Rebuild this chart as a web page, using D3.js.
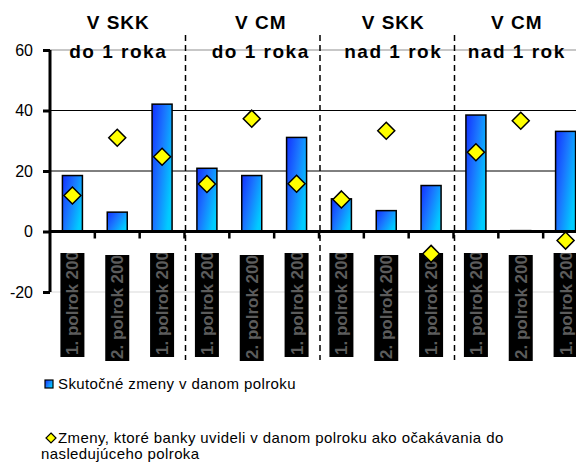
<!DOCTYPE html>
<html><head><meta charset="utf-8">
<script src="https://cdn.jsdelivr.net/npm/d3@7"></script>
<style>body{margin:0;background:#fff}svg{display:block}</style>
</head><body>
<script>
const categories = ["1. polrok 2005","2. polrok 2005","1. polrok 2006",
                    "1. polrok 2005","2. polrok 2005","1. polrok 2006",
                    "1. polrok 2005","2. polrok 2005","1. polrok 2006",
                    "1. polrok 2005","2. polrok 2005","1. polrok 2006"];
const actual   = [18.5, 6.4, 42.1, 20.9, 18.5, 31.1, 10.8, 6.9, 15.2, 38.5, 0.3, 33.1];
const expected = [11.9, 31.0, 24.7, 15.7, 37.3, 15.8, 10.6, 33.3, -7.4, 26.2, 36.6, -3.0];
const groupTitles = [["V SKK","do 1 roka"],["V CM","do 1 roka"],["V SKK","nad 1 rok"],["V CM","nad 1 rok"]];
const yTicks = [-20, 0, 20, 40, 60];
const legendLabels = ["Skutočné zmeny v danom polroku",
  ["Zmeny, ktoré banky uvideli v danom polroku ako očakávania do","nasledujúceho polroka"]];

const W = 576, H = 466;
const FONT = "Liberation Sans, Arial, sans-serif";
const svg = d3.select("body").append("svg").attr("width", W).attr("height", H);
const defs = svg.append("defs");
const grad = defs.append("linearGradient").attr("id","bg").attr("x1","0").attr("y1","0").attr("x2","1").attr("y2","0.6");
grad.append("stop").attr("offset","0").attr("stop-color","#1430ff");
grad.append("stop").attr("offset","0.5").attr("stop-color","#1a78ff");
grad.append("stop").attr("offset","1").attr("stop-color","#00ccff");

const x = d3.scaleBand().domain(d3.range(categories.length)).range([50, 588]);
const y = d3.scaleLinear().domain([-20, 60]).range([292, 50]);
const bw = x.bandwidth();
const bandLeft = i => x(i);
const cxOf = i => x(i) + bw / 2;

// gridlines
const gridColor = {"-20":"#e6e6e6","20":"#000","40":"#000","60":"#b4b4b4"};
svg.append("g").selectAll("line").data(yTicks.filter(d => d !== 0)).join("line")
  .attr("x1", 50).attr("x2", W).attr("y1", d => y(d)).attr("y2", d => y(d))
  .attr("stroke", d => gridColor[d]).attr("stroke-width", d => (d===20||d===40)?1:1.5);

// tick label boxes
const lab = svg.append("g");
categories.forEach((c, i) => {
  const cx = cxOf(i);
  const second = c.startsWith("2.");
  const top = second ? 255 : 253, bot = second ? 361 : 357;
  const cp = defs.append("clipPath").attr("id", "cl" + i);
  cp.append("rect").attr("x", cx - 12).attr("y", top).attr("width", 24).attr("height", bot - top);
  lab.append("rect").attr("x", cx - 12).attr("y", top).attr("width", 24).attr("height", bot - top).attr("fill", "#000");
  lab.append("g").attr("clip-path", "url(#cl" + i + ")").append("text")
    .attr("transform", `translate(${cx + 6},${bot - 2}) rotate(-90)`)
    .attr("font-family", FONT).attr("font-size", 17).attr("font-weight", "bold")
    .attr("fill", "#5c5c5c").text(c);
});

// separators
svg.append("g").selectAll("line").data([3, 6, 9]).join("line")
  .attr("x1", d => bandLeft(d) + 1).attr("x2", d => bandLeft(d) + 1).attr("y1", 35).attr("y2", 360)
  .attr("stroke", "#000").attr("stroke-width", 1.5).attr("stroke-dasharray", "6,4");

// bars
svg.append("g").selectAll("rect").data(actual).join("rect")
  .attr("x", (d, i) => cxOf(i) - 10).attr("width", 20)
  .attr("y", d => Math.min(y(d), y(0))).attr("height", d => Math.abs(y(d) - y(0)))
  .attr("fill", "url(#bg)").attr("stroke", "#000").attr("stroke-width", 1.5);

// zero line and axis
svg.append("line").attr("x1", 50).attr("x2", W).attr("y1", y(0)).attr("y2", y(0)).attr("stroke", "#000").attr("stroke-width", 3);
svg.append("g").selectAll("line").data(d3.range(1, 12)).join("line")
  .attr("x1", d => bandLeft(d)).attr("x2", d => bandLeft(d)).attr("y1", y(0)).attr("y2", y(0) + 7)
  .attr("stroke", "#000").attr("stroke-width", 2.5);
const yAxis = svg.append("g").attr("transform", "translate(50,0)")
  .call(d3.axisLeft(y).tickValues(yTicks).tickSize(7).tickPadding(10).tickFormat(d => String(d)));
yAxis.select(".domain").attr("stroke-width", 3).attr("d", `M0,${y(60)}V${y(-20)}`);
yAxis.selectAll(".tick line").attr("stroke-width", 3);
yAxis.selectAll("text").attr("font-family", FONT).attr("font-size", 16).attr("fill", "#000");

// diamonds
const diamond = s => `M0,${-s}L${s},0L0,${s}L${-s},0Z`;
svg.append("g").selectAll("path").data(expected).join("path")
  .attr("transform", (d, i) => `translate(${cxOf(i)},${y(d)})`)
  .attr("d", diamond(8.5)).attr("fill", "#ffff00").attr("stroke", "#000").attr("stroke-width", 1.5);

// titles
const titleOffsets = [1, 9, 7, -4];
const tg = svg.append("g").attr("font-family", FONT).attr("font-weight", "bold")
  .attr("font-size", 19).attr("text-anchor", "middle").attr("fill", "#000");
groupTitles.forEach((t, g) => {
  const cx = bandLeft(g * 3) + 1.5 * bw + titleOffsets[g];
  tg.append("text").attr("x", cx).attr("y", 29).attr("letter-spacing", 1).text(t[0]);
  tg.append("text").attr("x", cx).attr("y", 58).attr("letter-spacing", 1.5).text(t[1]);
});

// legend
const lg = svg.append("g").attr("font-family", FONT).attr("font-size", 15).attr("letter-spacing", 0.4).attr("fill", "#000");
lg.append("rect").attr("x", 45).attr("y", 380).attr("width", 8).attr("height", 8).attr("fill", "url(#bg)").attr("stroke", "#000").attr("stroke-width", 1.2);
lg.append("text").attr("x", 58).attr("y", 389).text(legendLabels[0]);
lg.append("path").attr("transform", "translate(51,438)").attr("d", diamond(5)).attr("fill", "#ffff00").attr("stroke", "#000").attr("stroke-width", 1.2);
lg.append("text").attr("x", 58).attr("y", 443).text(legendLabels[1][0]);
lg.append("text").attr("x", 41).attr("y", 459).text(legendLabels[1][1]);
</script>
</body></html>
